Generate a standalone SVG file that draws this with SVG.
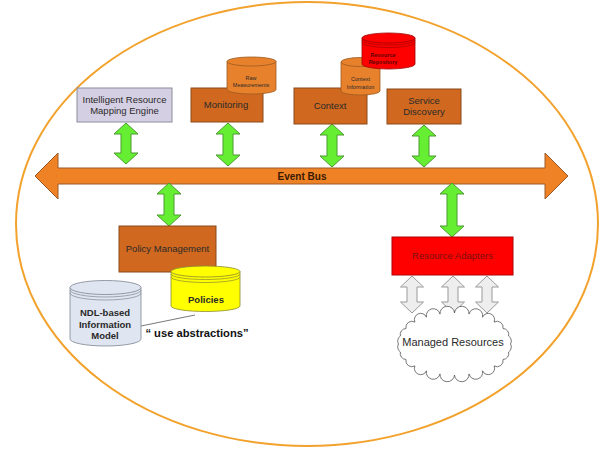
<svg xmlns="http://www.w3.org/2000/svg" width="600" height="451" viewBox="0 0 600 451">
<style>
text{font-family:"Liberation Sans",Arial,sans-serif;text-anchor:middle;fill:#2a2a2a}
.box{fill:#d0691f;stroke:#8a4a1a;stroke-width:1}
.cylo{fill:#e8812c;stroke:#9a5a20;stroke-width:0.8}
.cylr{fill:#ff0000;stroke:#a00000;stroke-width:0.8}
.cyly{fill:#ffff00;stroke:#8a8a30;stroke-width:0.8}
.cylb{fill:#dfe5f1;stroke:#7f8590;stroke-width:0.8}
.ga{fill:#66ee33;stroke:#4b9a2e;stroke-width:1}
.wa{fill:#eeeeee;stroke:#999999;stroke-width:1}
.t10{font-size:9.5px}
</style>
<rect width="600" height="451" fill="#ffffff"/>
<ellipse cx="307" cy="224" rx="291" ry="222" fill="none" stroke="#f2a22c" stroke-width="2"/>

<g id="connectors">
<polygon id="event-bus" points="35,176 58,153 58,168 545,168 545,153 568,176 545,199 545,184 58,184 58,199" fill="#f08226" stroke="#9a5a2a" stroke-width="1"/>
<text x="302" y="179.5" style="font-size:10px;font-weight:bold;fill:#3a1a00">Event Bus</text>
<polygon class="ga" points="126,123 138,134 131,134 131,153 138,153 126,164 114,153 121,153 121,134 114,134"/>
<polygon class="ga" points="228,123 240,134 233,134 233,155 240,155 228,166 216,155 223,155 223,134 216,134"/>
<polygon class="ga" points="332,124 344,135 337,135 337,156 344,156 332,167 320,156 327,156 327,135 320,135"/>
<polygon class="ga" points="424,125 436,136 429,136 429,156 436,156 424,167 412,156 419,156 419,136 412,136"/>
<polygon class="ga" points="169,183 181,194 174,194 174,215 181,215 169,226 157,215 164,215 164,194 157,194"/>
<polygon class="ga" points="452,183 464,194 457,194 457,226 464,226 452,237 440,226 447,226 447,194 440,194"/>
<polygon class="wa" points="412,276 423.5,287 417,287 417,302 423.5,302 412,313 400.5,302 407,302 407,287 400.5,287"/>
<polygon class="wa" points="453,276 464.5,287 458,287 458,302 464.5,302 453,313 441.5,302 448,302 448,287 441.5,287"/>
<polygon class="wa" points="487,276 498.5,287 492,287 492,302 498.5,302 487,313 475.5,302 482,302 482,287 475.5,287"/>
<line x1="141" y1="326" x2="195" y2="315" stroke="#555555" stroke-width="0.8"/>
</g>

<g id="irme">
<rect x="77" y="88" width="95" height="34" fill="#d5cfe3" stroke="#8c8c9c" stroke-width="1"/>
<text class="t10" x="124.5" y="102.5">Intelligent Resource</text>
<text class="t10" x="124.5" y="114">Mapping Engine</text>
</g>

<g id="monitoring">
<rect class="box" x="191" y="88" width="72" height="34"/>
<text class="t10" x="226" y="108">Monitoring</text>
</g>

<g id="raw-measurements">
<path class="cylo" d="M227,61.5 L227,89.5 A24.5,4.5 0 0 0 276,89.5 L276,61.5 Z"/>
<ellipse class="cylo" cx="251.5" cy="61.5" rx="24.5" ry="4.5"/>
<text x="251" y="79.5" style="font-size:5.5px">Raw</text>
<text x="251" y="87" style="font-size:5.5px">Measurements</text>
</g>

<g id="context">
<rect class="box" x="294" y="88" width="73" height="36"/>
<text class="t10" x="330" y="109">Context</text>
</g>

<g id="context-information">
<path class="cylo" d="M341,62 L341,91 A19.5,4 0 0 0 380,91 L380,62 Z"/>
<ellipse class="cylo" cx="360.5" cy="62" rx="19.5" ry="4.5"/>
<text x="360.5" y="81" style="font-size:5.5px">Context</text>
<text x="360.5" y="88.5" style="font-size:5.5px">Information</text>
</g>

<g id="resource-repository">
<path class="cylr" d="M362,38 L362,64 A26.5,5 0 0 0 415,64 L415,38 Z"/>
<ellipse class="cylr" cx="388.5" cy="38" rx="26.5" ry="5"/>
<path d="M362,40 A26.5,5 0 0 0 415,40 M362,42.5 A26.5,5 0 0 0 415,42.5" fill="none" stroke="#a00000" stroke-width="0.7"/>
<text x="383" y="56.5" style="font-size:5.5px;font-weight:bold;fill:#5a0000">Resource</text>
<text x="383" y="64" style="font-size:5.5px;font-weight:bold;fill:#5a0000">Repository</text>
</g>

<g id="service-discovery">
<rect class="box" x="387" y="89" width="74" height="35"/>
<text class="t10" x="424" y="103.5">Service</text>
<text class="t10" x="424" y="115">Discovery</text>
</g>

<g id="policy-management">
<rect class="box" x="119" y="226" width="97" height="46"/>
<text class="t10" x="167.5" y="251.5">Policy Management</text>
</g>

<g id="ndl-model">
<path class="cylb" d="M70,287.5 L70,339 A35.5,7 0 0 0 141,339 L141,287.5 Z"/>
<ellipse class="cylb" cx="105.5" cy="287.5" rx="35.5" ry="7"/>
<path d="M70,290 A35.5,7 0 0 0 141,290 M70,293 A35.5,7 0 0 0 141,293" fill="none" stroke="#7f8590" stroke-width="0.7"/>
<text x="105" y="316" style="font-size:9.5px;font-weight:bold">NDL-based</text>
<text x="105" y="327.5" style="font-size:9.5px;font-weight:bold">Information</text>
<text x="105" y="339" style="font-size:9.5px;font-weight:bold">Model</text>
</g>

<g id="policies">
<path class="cyly" d="M171,271.5 L171,306 A34.5,5.5 0 0 0 240,306 L240,271.5 Z"/>
<ellipse class="cyly" cx="205.5" cy="271.5" rx="34.5" ry="5.5"/>
<path d="M171,274 A34.5,5.5 0 0 0 240,274 M171,277 A34.5,5.5 0 0 0 240,277" fill="none" stroke="#8a8a30" stroke-width="0.7"/>
<text x="206" y="302.5" style="font-size:9.5px;font-weight:bold">Policies</text>
</g>

<g id="use-abstractions">
<text x="197" y="337" style="font-size:11.2px;font-weight:bold;fill:#111">“ use abstractions”</text>
</g>

<g id="resource-adapters">
<rect x="392" y="237" width="121" height="38" fill="#ff0000" stroke="#b00000" stroke-width="1"/>
<text class="t10" x="452.5" y="259" style="fill:#7a1010">Resource Adapters</text>
</g>

<g id="managed-resources">
<path d="M510.5,344 A6,6 0 0 1 508.6,352 A6,6 0 0 1 503,359.5 A6,6 0 0 1 494.1,365.9 A6,6 0 0 1 482.5,370.8 A6,6 0 0 1 469,373.9 A6,6 0 0 1 454.5,375 A6,6 0 0 1 440,373.9 A6,6 0 0 1 426.5,370.8 A6,6 0 0 1 414.9,365.9 A6,6 0 0 1 406,359.5 A6,6 0 0 1 400.4,352 A6,6 0 0 1 398.5,344 A6,6 0 0 1 400.4,336 A6,6 0 0 1 406,328.5 A6,6 0 0 1 414.9,322.1 A6,6 0 0 1 426.5,317.2 A6,6 0 0 1 440,314.1 A6,6 0 0 1 454.5,313 A6,6 0 0 1 469,314.1 A6,6 0 0 1 482.5,317.2 A6,6 0 0 1 494.1,322.1 A6,6 0 0 1 503,328.5 A6,6 0 0 1 508.6,336 A6,6 0 0 1 510.5,344 Z" fill="#ffffff" stroke="#555555" stroke-width="0.8"/>
<text x="453" y="346" style="font-size:11px">Managed Resources</text>
</g>
</svg>
